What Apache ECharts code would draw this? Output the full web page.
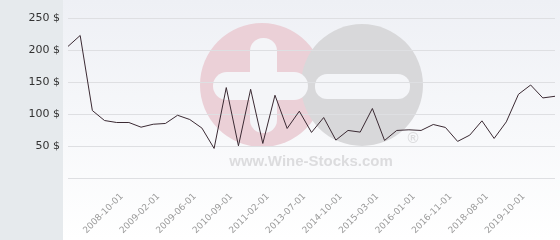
<!DOCTYPE html>
<html><head><meta charset="utf-8">
<script src="https://cdn.jsdelivr.net/npm/echarts@6/dist/echarts.min.js"></script>
<style>html,body{margin:0;padding:0;background:#fff}#c{width:560px;height:240px}</style>
</head><body><div id="c"></div>
<script>
const categories = ['2008-04-01','2008-06-01','2008-07-01','2008-08-01','2008-09-01','2008-10-01','2008-11-01','2009-01-01','2009-02-01','2009-03-01','2009-05-01','2009-06-01','2009-09-01','2010-03-01','2010-09-01','2010-11-01','2011-01-01','2011-02-01','2012-01-01','2012-09-01','2013-07-01','2013-11-01','2014-05-01','2014-10-01','2014-12-01','2015-01-01','2015-03-01','2015-06-01','2015-10-01','2016-01-01','2016-05-01','2016-08-01','2016-11-01','2017-06-01','2018-01-01','2018-08-01','2019-01-01','2019-05-01','2019-10-01','2020-03-01','2020-07-01'];
const prices = [205.6,222.7,105.4,89.8,86.7,86.7,79.4,84,85.2,98,91.4,78,46.2,141.3,50.3,138.6,54,129.3,77.4,104.4,71.2,94.5,59.2,74.3,71.7,108.6,58.7,74.3,75.3,74.3,83.6,79,57.2,67,89.3,61.8,87.7,130.8,145.3,125.1,127.7];
const shownLabels = ['2008-10-01','2009-02-01','2009-06-01','2010-09-01','2011-02-01','2013-07-01','2014-10-01','2015-03-01','2016-01-01','2016-11-01','2018-08-01','2019-10-01'];
const yTicks = [0,50,100,150,200,250];

const chart = echarts.init(document.getElementById('c'), null, {renderer:'canvas'});
chart.setOption({
  animation:false,
  backgroundColor:{type:'linear',x:0,y:0,x2:0,y2:1,colorStops:[{offset:0,color:'#eef0f5'},{offset:1,color:'#ffffff'}]},
  graphic:[
    {type:'rect',z:-20,shape:{x:0,y:0,width:63,height:240},style:{fill:'#e6eaed'}},
    {type:'circle',z:-10,shape:{cx:262,cy:85,r:62},style:{fill:'#ebd0d7'}},
    {type:'circle',z:-9,shape:{cx:362,cy:85,r:61},style:{fill:'#d8d8da'}},
    {type:'rect',z:-8,shape:{x:250,y:38,width:27,height:95,r:13},style:{fill:'#f4f5f8'}},
    {type:'rect',z:-8,shape:{x:213,y:72,width:95,height:28,r:14},style:{fill:'#f4f5f8'}},
    {type:'rect',z:-8,shape:{x:315,y:74,width:95,height:25,r:12},style:{fill:'#f4f5f8'}},
    {type:'text',z:-8,style:{x:311,y:162,text:'www.Wine-Stocks.com',fill:'#dcdcde',font:'bold 15px "Liberation Sans", Arial, sans-serif',align:'center',verticalAlign:'middle'}},
    {type:'text',z:-8,style:{x:413,y:139,text:'®',fill:'#dcdcde',font:'bold 15px "Liberation Sans", Arial, sans-serif',align:'center',verticalAlign:'middle'}}
  ],
  grid:{left:68,right:5,top:18,bottom:62},
  xAxis:{type:'category',data:categories,boundaryGap:false,
    axisLine:{show:false},axisTick:{show:false},splitLine:{show:false},
    axisLabel:{rotate:45,margin:10,padding:[0,10,0,0],color:'#9a9a9a',fontSize:9,fontFamily:'DejaVu Sans',
      interval:(i,v)=>shownLabels.indexOf(v)>=0}},
  yAxis:{type:'value',min:yTicks[0],max:yTicks[yTicks.length-1],interval:50,
    axisLine:{show:false},axisTick:{show:false},
    splitLine:{lineStyle:{color:'#dedfe2',width:1}},
    axisLabel:{margin:8,color:'#333',fontSize:11,fontFamily:'DejaVu Sans',
      formatter:v=>v===0?'':v+' $'}},
  series:[{type:'line',data:prices,symbol:'none',lineStyle:{color:'#3b2a33',width:1}}]
});
</script></body></html>
